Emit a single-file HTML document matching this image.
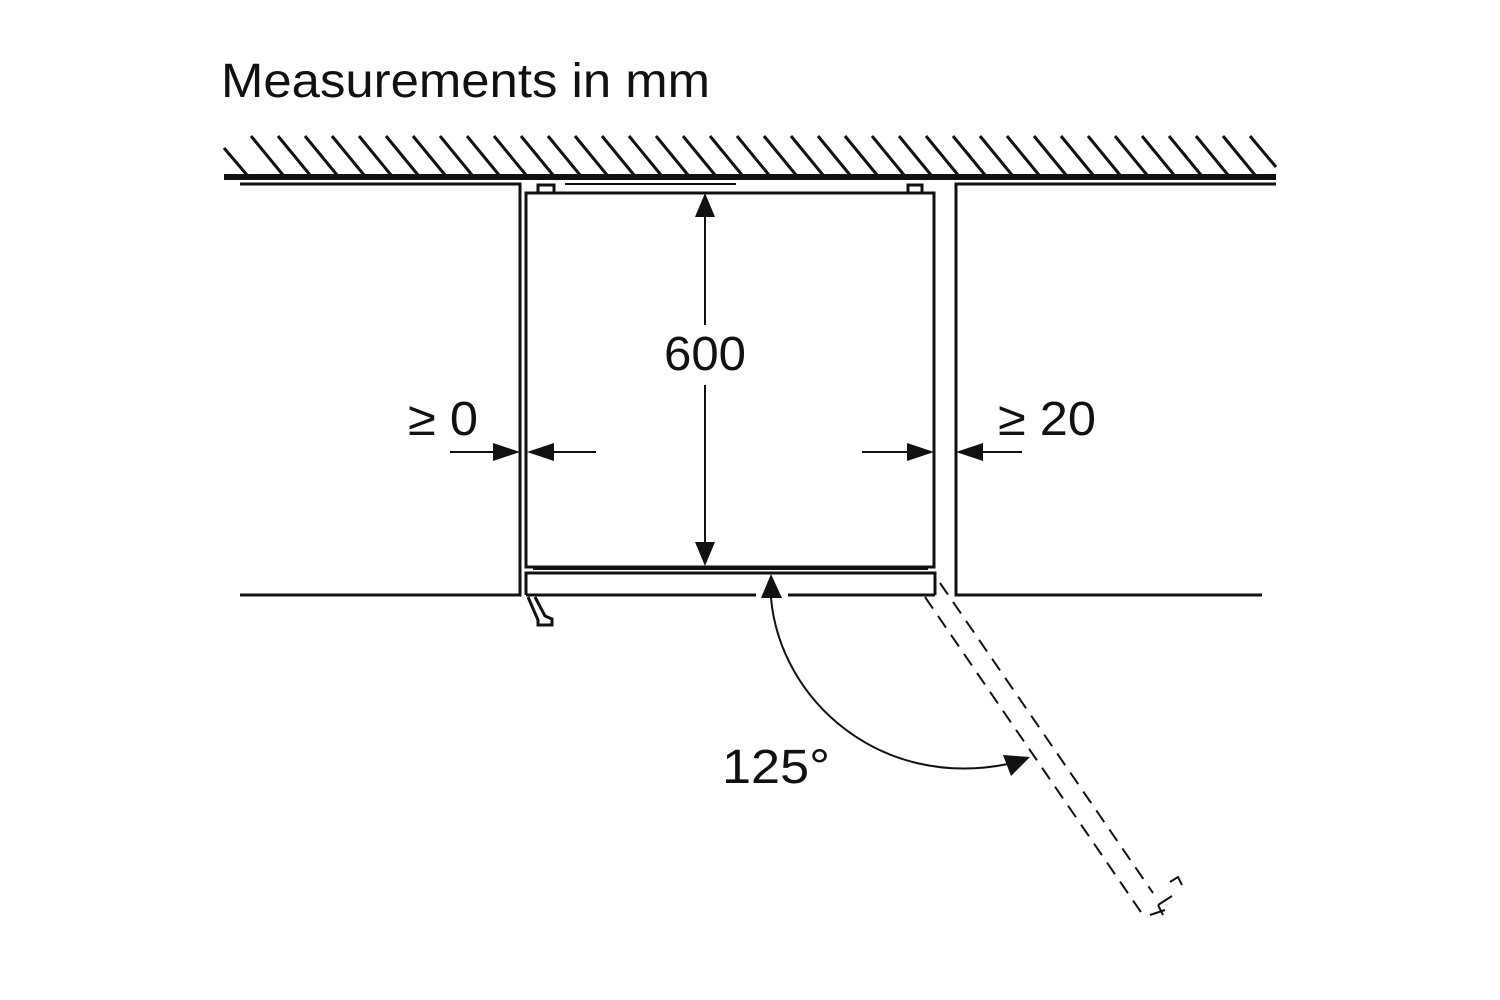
<!DOCTYPE html>
<html><head><style>body{margin:0;background:#fff}svg{display:block}</style></head>
<body>
<svg width="1500" height="1000" viewBox="0 0 1500 1000" xmlns="http://www.w3.org/2000/svg" font-family="Liberation Sans, sans-serif">
<rect width="1500" height="1000" fill="#fff"/>
<text x="221" y="97" font-size="48" fill="#111" textLength="489" lengthAdjust="spacingAndGlyphs">Measurements in mm</text>
<path stroke="#111" stroke-width="3" fill="none" d="M224 148l23 27 M251 136l32 39 M278 136l32 39 M305 136l32 39 M332 136l32 39 M359 136l32 39 M386 136l32 39 M413 136l32 39 M440 136l32 39 M467 136l32 39 M494 136l32 39 M521 136l32 39 M548 136l32 39 M575 136l32 39 M602 136l32 39 M629 136l32 39 M656 136l32 39 M683 136l32 39 M710 136l32 39 M737 136l32 39 M764 136l32 39 M791 136l32 39 M818 136l32 39 M845 136l32 39 M872 136l32 39 M899 136l32 39 M926 136l32 39 M953 136l32 39 M980 136l32 39 M1007 136l32 39 M1034 136l32 39 M1061 136l32 39 M1088 136l32 39 M1115 136l32 39 M1142 136l32 39 M1169 136l32 39 M1196 136l32 39 M1223 136l32 39 M1250 136l26 31"/>
<line x1="224" y1="177" x2="1276" y2="177" stroke="#111" stroke-width="6"/>
<g stroke="#111" stroke-width="3" fill="none">
<polyline points="240,184 520,184 520,595 240,595"/>
<polyline points="1276,184 956,184 956,595 1262,595"/>
<line x1="565" y1="184" x2="736" y2="184" stroke-width="2"/>
<rect x="538" y="185" width="16" height="8"/>
<rect x="908" y="185" width="14" height="8"/>
<rect x="526" y="193" width="408" height="374"/>
<line x1="533" y1="569" x2="928" y2="569" stroke-width="2"/>
<polyline points="526,595 526,573 935,573 935,595"/>
<line x1="526" y1="595" x2="756" y2="595"/>
<line x1="788" y1="595" x2="935" y2="595"/>
<polyline points="528,597 538,620 538,625 552,625 552,619 545,616 535,597"/>
<line x1="450" y1="452" x2="500" y2="452" stroke-width="2"/>
<line x1="548" y1="452" x2="596" y2="452" stroke-width="2"/>
<line x1="862" y1="452" x2="912" y2="452" stroke-width="2"/>
<line x1="978" y1="452" x2="1022" y2="452" stroke-width="2"/>
<line x1="705" y1="212" x2="705" y2="325" stroke-width="2"/>
<line x1="705" y1="385" x2="705" y2="548" stroke-width="2"/>
<path d="M771 598 C 780 700, 880 790, 1008 764" stroke-width="2"/>
<g stroke-dasharray="14,9" stroke-width="2">
<line x1="925" y1="597" x2="1145" y2="918"/>
<line x1="940" y1="583" x2="1153" y2="893"/>
</g>
<path d="M1158 905 L1172 896 M1163 915 L1158 905 M1150 915 L1165 910 M1170 882 L1178 877 L1182 885" stroke-width="2"/>
</g>
<g fill="#111">
<polygon points="520,452 493,443 493,461"/>
<polygon points="527,452 554,443 554,461"/>
<polygon points="934,452 907,443 907,461"/>
<polygon points="956,452 983,443 983,461"/>
<polygon points="705,193 695,217 715,217"/>
<polygon points="705,566 695,542 715,542"/>
<polygon points="771,574 761,598 782,598"/>
<polygon points="1030,757 1003,755 1011,776"/>
</g>
<g font-size="48" fill="#111" lengthAdjust="spacingAndGlyphs">
<text x="664" y="370" textLength="82" lengthAdjust="spacingAndGlyphs">600</text>
<text x="408" y="435" textLength="70" lengthAdjust="spacingAndGlyphs">≥ 0</text>
<text x="998" y="435" textLength="98" lengthAdjust="spacingAndGlyphs">≥ 20</text>
<text x="722" y="783" textLength="108" lengthAdjust="spacingAndGlyphs">125°</text>
</g>
</svg>
</body></html>
